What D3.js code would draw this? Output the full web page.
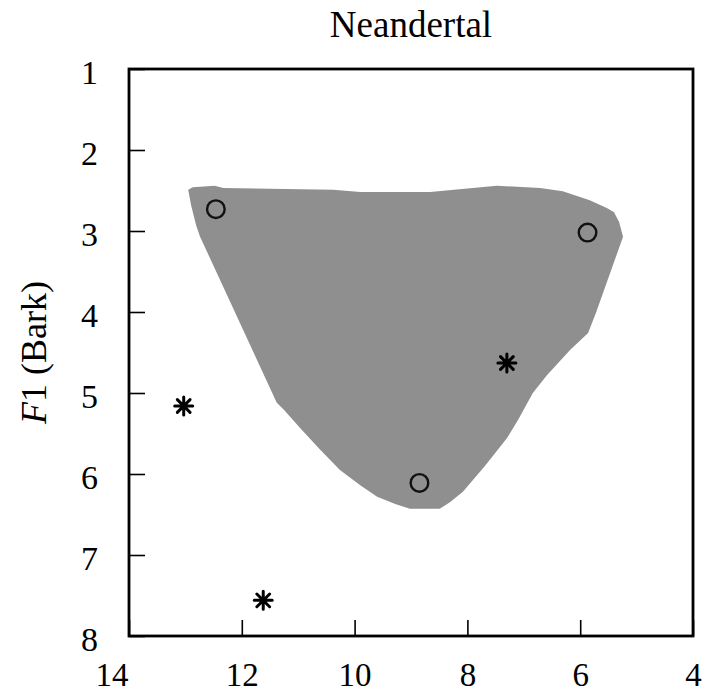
<!DOCTYPE html>
<html>
<head>
<meta charset="utf-8">
<script src="https://cdn.jsdelivr.net/npm/d3@7"></script>
<style>
  body { margin: 0; background: #fff; }
  svg text { font-family: "Liberation Serif", "DejaVu Serif", serif; fill: #000; }
</style>
</head>
<body>
<svg id="chart" width="713" height="694"></svg>
<script>
// vowel space outline (F2, F1 in Bark)
let hullF2 = [12.95, 12.87, 12.48, 12.33, 10.38, 9.90, 8.66, 7.48, 6.71, 6.31, 5.83, 5.52, 5.40, 5.31, 5.24,
              5.72, 5.86, 6.18, 6.59, 6.84, 7.10, 7.30, 7.69, 8.08, 8.31, 8.49, 9.02, 9.28, 9.60, 9.90,
              10.26, 10.61, 10.97, 11.25, 11.38, 12.74, 12.81, 12.90]
let hullF1 = [2.49, 2.46, 2.44, 2.47, 2.49, 2.52, 2.52, 2.44, 2.47, 2.51, 2.62, 2.72, 2.77, 2.89, 3.07,
              4.01, 4.26, 4.47, 4.78, 5.00, 5.33, 5.56, 5.90, 6.22, 6.35, 6.43, 6.43, 6.37, 6.28, 6.14,
              5.95, 5.70, 5.43, 5.21, 5.12, 3.07, 2.93, 2.68]

// circles
let circleF2 = [12.46, 5.87, 8.85]
let circleF1 = [2.73, 3.02, 6.11]

// asterisks
let starF2 = [13.03, 11.62, 7.30]
let starF1 = [5.16, 7.56, 4.63]

let xTicks = [14, 12, 10, 8, 6, 4]
let yTicks = [1, 2, 3, 4, 5, 6, 7, 8]

let serif = '"Liberation Serif", "DejaVu Serif", serif'
let svg = d3.select('#chart').attr('font-family', serif)
let plotL = 129, plotR = 693, plotT = 69, plotB = 636

let xScale = d3.scaleLinear().domain([14, 4]).range([plotL, plotR])
let yScale = d3.scaleLinear().domain([1, 8]).range([plotT, plotB])

// shaded area
let hull = hullF2.map((d, i) => [d, hullF1[i]])
svg.append('path')
    .attr('d', d3.line().x(d => xScale(d[0])).y(d => yScale(d[1])).curve(d3.curveLinearClosed)(hull))
    .attr('fill', '#8f8f8f')

// axes
let yAxis = d3.axisLeft(yScale).tickValues(yTicks).tickSize(-16).tickPadding(31).tickFormat(d3.format('d'))
let gy = svg.append('g').attr('transform', 'translate(' + plotL + ',0)').call(yAxis)
gy.attr('font-family', serif)
gy.select('.domain').remove()
gy.selectAll('line').attr('stroke', '#000').attr('stroke-width', 1.6)
gy.selectAll('text').attr('font-size', 34).attr('dy', '0.42em')

let xAxis = d3.axisBottom(xScale).tickValues(xTicks).tickSize(-16).tickPadding(28).tickFormat(d3.format('d'))
let gx = svg.append('g').attr('transform', 'translate(0,' + plotB + ')').call(xAxis)
gx.attr('font-family', serif)
gx.select('.domain').remove()
gx.selectAll('line').attr('stroke', '#000').attr('stroke-width', 1.6)
gx.selectAll('text').attr('font-size', 33).attr('dy', '0.68em')
gx.selectAll('.tick').filter(d => d === 14).select('text').attr('text-anchor', 'end').attr('x', -1)

// frame
svg.append('rect')
    .attr('x', plotL).attr('y', plotT)
    .attr('width', plotR - plotL).attr('height', plotB - plotT)
    .attr('fill', 'none').attr('stroke', '#000').attr('stroke-width', 2.8)

// circles
svg.selectAll('circle.mark')
    .data(circleF2)
    .enter()
    .append('circle')
    .attr('class', 'mark')
    .attr('cx', (d) => xScale(d))
    .attr('cy', (d, i) => yScale(circleF1[i]))
    .attr('r', 8.8)
    .attr('fill', 'none')
    .attr('stroke', '#111')
    .attr('stroke-width', 2.4)

// asterisks, eight arms
let armLen = 9
let star = () => {
    let p = ''
    for (let a = 0; a < 4; a++) {
        let ang = a * Math.PI / 4
        let dx = Math.cos(ang) * armLen, dy = Math.sin(ang) * armLen
        p += 'M' + (-dx) + ',' + (-dy) + 'L' + dx + ',' + dy
    }
    return p
}
svg.selectAll('path.star')
    .data(starF2)
    .enter()
    .append('path')
    .attr('class', 'star')
    .attr('transform', (d, i) => 'translate(' + xScale(d) + ',' + yScale(starF1[i]) + ')')
    .attr('d', star())
    .attr('stroke', '#000')
    .attr('stroke-width', 3)
    .attr('stroke-linecap', 'round')

// title
svg.append('text')
    .attr('x', (plotL + plotR) / 2)
    .attr('y', 37)
    .attr('text-anchor', 'middle')
    .attr('font-size', 37)
    .text('Neandertal')

// y label
let ylab = svg.append('text')
    .attr('transform', 'translate(46,' + (plotT + plotB) / 2 + ') rotate(-90)')
    .attr('text-anchor', 'middle')
    .attr('font-size', 36)
ylab.append('tspan').attr('font-style', 'italic').text('F')
ylab.append('tspan').text('1 (Bark)')
</script>
</body>
</html>
